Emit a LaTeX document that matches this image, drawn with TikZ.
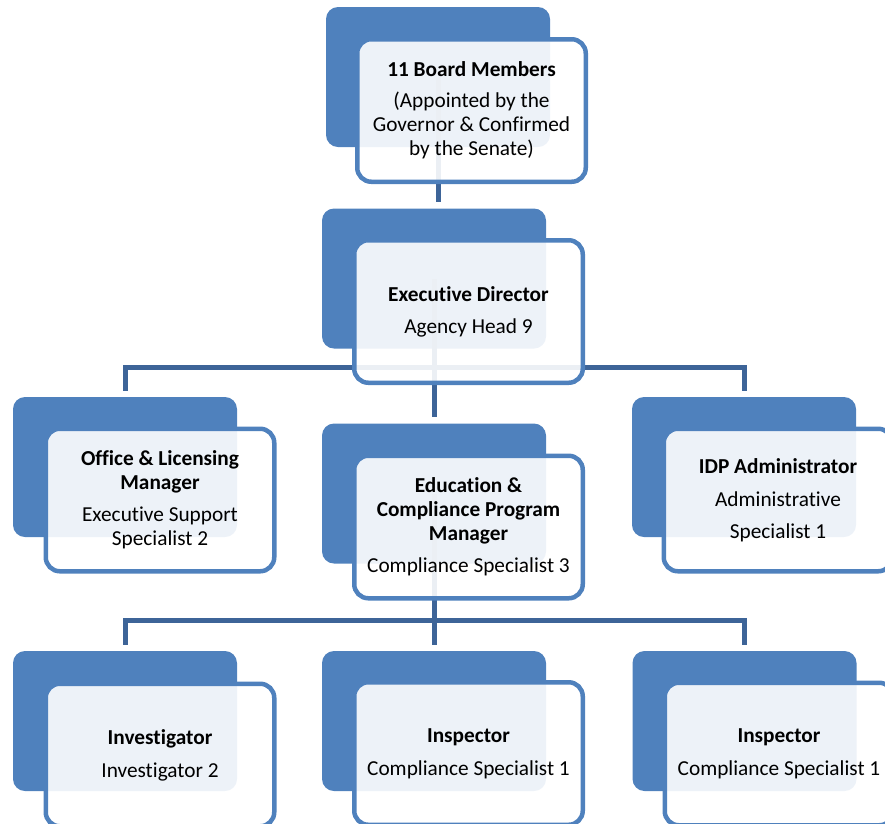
\documentclass[tikz,border=0pt]{standalone}
\usepackage{fontspec}
\setmainfont{Carlito}[Ligatures=CommonOff]
\definecolor{backblue}{RGB}{79,129,189}
\definecolor{lineblue}{RGB}{61,100,152}
\tikzset{
  backbox/.style={fill=backblue, draw=none, rounded corners=12pt, minimum width=224pt, minimum height=140pt, inner sep=0pt},
  innerbox/.style={draw=backblue, line width=4.5pt, fill=white, fill opacity=0.9, text opacity=1, rounded corners=14pt, minimum width=228.5pt, minimum height=142.5pt, inner sep=0pt, align=center, font=\fontsize{21.3}{24}\selectfont},
  conn/.style={draw=lineblue, line width=5pt, line join=miter},
}
\begin{document}
\begin{tikzpicture}[x=1pt,y=-1pt]
\useasboundingbox (0,0) rectangle (885,823);
\clip (0,0) rectangle (885,823);
% back boxes
\node[backbox] (boardb) at (438,77) {};
\node[backbox] (execb) at (434,278.5) {};
\node[backbox] (officeb) at (125,467) {};
\node[backbox] (edub) at (434,493.5) {};
\node[backbox] (idpb) at (744,467) {};
\node[backbox] (invb) at (125,721) {};
\node[backbox] (inspb) at (434,721) {};
\node[backbox] (inspbb) at (744.5,721) {};
% connectors
\coordinate (bus1) at (434,367);
\coordinate (bus2) at (434,620);
\draw[conn] (boardb.center) -- ([yshift=6pt]boardb.center |- execb.north);
\draw[conn] (execb.center) -- ([yshift=6pt]edub.north);
\draw[conn] ([yshift=6pt]officeb.north) |- (bus1) -| ([yshift=6pt]idpb.north);
\draw[conn] (edub.center) -- ([yshift=6pt]inspb.north);
\draw[conn] ([yshift=6pt]invb.north) |- (bus2) -| ([yshift=6pt]inspbb.north);
% front boxes
\node[innerbox] (board) at (471.5,110.5) {\textbf{11 Board Members}\\[7pt](Appointed by the\\Governor \& Confirmed\\by the Senate)};
\node[innerbox] (exec) at (468.5,311.5) {\textbf{Executive Director}\\[8pt]Agency Head 9};
\node[innerbox] (office) at (160,500) {\textbf{Office \& Licensing}\\\textbf{Manager}\\[8pt]Executive Support\\Specialist 2};
\node[innerbox] (edu) at (468.5,527) {\textbf{Education \&}\\\textbf{Compliance Program}\\\textbf{Manager}\\[8pt]Compliance Specialist 3};
\node[innerbox] (idp) at (778,500) {\textbf{IDP Administrator}\\[9pt]Administrative\\[8pt]Specialist 1};
\node[innerbox] (inv) at (160,755) {\textbf{Investigator}\\[9pt]Investigator 2};
\node[innerbox] (insp) at (468.5,753.5) {\textbf{Inspector}\\[9pt]Compliance Specialist 1};
\node[innerbox] (insp2) at (779,754) {\textbf{Inspector}\\[9pt]Compliance Specialist 1};
\end{tikzpicture}
\end{document}
